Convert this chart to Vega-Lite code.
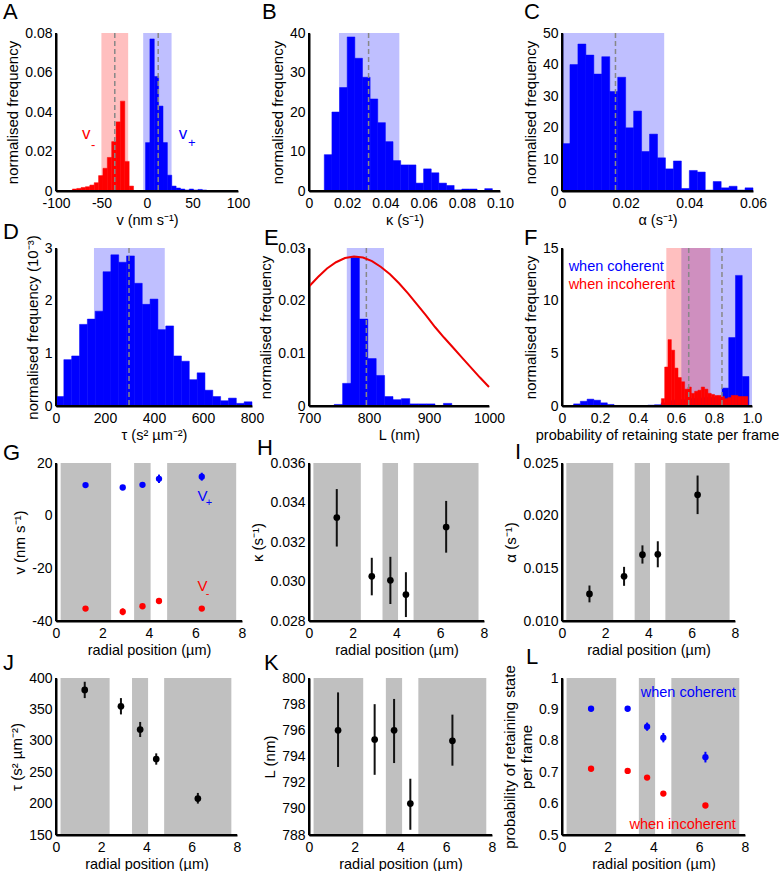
{
"$schema": "https://vega.github.io/schema/vega-lite/v6.json",
"padding": {"left": 3, "top": 1, "right": 0, "bottom": 0},
"columns": 3,
"spacing": {"row": 57, "column": 57},
"bounds": "flush",
"align": "all",
"config": {
  "font": "Liberation Sans",
  "view": {"stroke": null},
  "axis": {"domain": true, "domainColor": "#000000", "domainOpacity": 1, "domainWidth": 2, "ticks": false, "grid": false, "labelFontSize": 14, "labelColor": "#000000", "labelPadding": 4, "labelOverlap": false, "labelFlush": false, "labelBound": false, "titleFontWeight": "normal", "titleColor": "#000000", "titlePadding": 4, "zindex": 1},
  "axisX": {"titleFontSize": 14.5, "labelPadding": 5, "titlePadding": 3},
  "axisY": {"titleFontSize": 15},
  "title": {"fontSize": 22, "fontWeight": "normal", "anchor": "start", "frame": "group", "offset": 4, "color": "#000000"}
},
"datasets": {
  "hA": [
    {"x0": -82, "x1": -77.2, "f": 0.001, "s": "neg"},
    {"x0": -77.2, "x1": -72.4, "f": 0.0013, "s": "neg"},
    {"x0": -72.4, "x1": -67.6, "f": 0.0018, "s": "neg"},
    {"x0": -67.6, "x1": -62.8, "f": 0.0022, "s": "neg"},
    {"x0": -62.8, "x1": -58, "f": 0.003, "s": "neg"},
    {"x0": -58, "x1": -53.2, "f": 0.0042, "s": "neg"},
    {"x0": -53.2, "x1": -48.4, "f": 0.0078, "s": "neg"},
    {"x0": -48.4, "x1": -43.6, "f": 0.0115, "s": "neg"},
    {"x0": -43.6, "x1": -38.8, "f": 0.017, "s": "neg"},
    {"x0": -38.8, "x1": -34, "f": 0.025, "s": "neg"},
    {"x0": -34, "x1": -29.2, "f": 0.035, "s": "neg"},
    {"x0": -29.2, "x1": -24.4, "f": 0.0455, "s": "neg"},
    {"x0": -24.4, "x1": -19.6, "f": 0.015, "s": "neg"},
    {"x0": -19.6, "x1": -14.8, "f": 0.0025, "s": "neg"},
    {"x0": -1.6, "x1": 3.2, "f": 0.0245, "s": "pos"},
    {"x0": 3.2, "x1": 8, "f": 0.077, "s": "pos"},
    {"x0": 8, "x1": 12.8, "f": 0.058, "s": "pos"},
    {"x0": 12.8, "x1": 17.6, "f": 0.043, "s": "pos"},
    {"x0": 17.6, "x1": 22.4, "f": 0.0245, "s": "pos"},
    {"x0": 22.4, "x1": 27.2, "f": 0.008, "s": "pos"},
    {"x0": 27.2, "x1": 32, "f": 0.0025, "s": "pos"},
    {"x0": 32, "x1": 36.8, "f": 0.0015, "s": "pos"},
    {"x0": 36.8, "x1": 41.6, "f": 0.001, "s": "pos"},
    {"x0": 41.6, "x1": 46.4, "f": 0.0005, "s": "pos"},
    {"x0": 46.4, "x1": 51.2, "f": 0.001, "s": "pos"},
    {"x0": 51.2, "x1": 56, "f": 0.0005, "s": "pos"},
    {"x0": 56, "x1": 60.8, "f": 0.0008, "s": "pos"},
    {"x0": 60.8, "x1": 65.6, "f": 0.0005, "s": "pos"}
  ],
  "bA": [
    {"lo": -50.1, "hi": -20.7, "m": -35.4, "s": "neg"},
    {"lo": -4.2, "hi": 27, "m": 12.3, "s": "pos"}
  ],
  "hB": [
    {"x0": 0.008, "x1": 0.012, "f": 9.2}, {"x0": 0.012, "x1": 0.016, "f": 20}, {"x0": 0.016, "x1": 0.02, "f": 26.2},
    {"x0": 0.02, "x1": 0.024, "f": 39}, {"x0": 0.024, "x1": 0.028, "f": 33.6}, {"x0": 0.028, "x1": 0.032, "f": 28.8},
    {"x0": 0.032, "x1": 0.036, "f": 23.3}, {"x0": 0.036, "x1": 0.04, "f": 17.3}, {"x0": 0.04, "x1": 0.044, "f": 12.5},
    {"x0": 0.044, "x1": 0.048, "f": 7.7}, {"x0": 0.048, "x1": 0.052, "f": 6.6}, {"x0": 0.052, "x1": 0.056, "f": 6.6},
    {"x0": 0.056, "x1": 0.06, "f": 2}, {"x0": 0.06, "x1": 0.064, "f": 5.6}, {"x0": 0.064, "x1": 0.068, "f": 4.6},
    {"x0": 0.068, "x1": 0.072, "f": 2}, {"x0": 0.072, "x1": 0.076, "f": 1.4}, {"x0": 0.076, "x1": 0.08, "f": 0.3},
    {"x0": 0.08, "x1": 0.084, "f": 0.5}, {"x0": 0.084, "x1": 0.088, "f": 0.5}, {"x0": 0.088, "x1": 0.092, "f": 0.1},
    {"x0": 0.092, "x1": 0.096, "f": 0.6}
  ],
  "bB": [{"lo": 0.0157, "hi": 0.0473, "m": 0.0312}],
  "hC": [
    {"x0": 0, "x1": 0.0025, "f": 15}, {"x0": 0.0025, "x1": 0.005, "f": 40}, {"x0": 0.005, "x1": 0.0075, "f": 46.5},
    {"x0": 0.0075, "x1": 0.01, "f": 43}, {"x0": 0.01, "x1": 0.0125, "f": 37}, {"x0": 0.0125, "x1": 0.015, "f": 42.5},
    {"x0": 0.015, "x1": 0.0175, "f": 31.5}, {"x0": 0.0175, "x1": 0.02, "f": 36}, {"x0": 0.02, "x1": 0.0225, "f": 20},
    {"x0": 0.0225, "x1": 0.025, "f": 25.3}, {"x0": 0.025, "x1": 0.0275, "f": 12.5}, {"x0": 0.0275, "x1": 0.03, "f": 18},
    {"x0": 0.03, "x1": 0.0325, "f": 10.5}, {"x0": 0.0325, "x1": 0.035, "f": 7}, {"x0": 0.035, "x1": 0.0375, "f": 9.5},
    {"x0": 0.0375, "x1": 0.04, "f": 0.8}, {"x0": 0.04, "x1": 0.0425, "f": 6.5}, {"x0": 0.0425, "x1": 0.045, "f": 6},
    {"x0": 0.045, "x1": 0.0475, "f": 0.3}, {"x0": 0.0475, "x1": 0.05, "f": 3}, {"x0": 0.05, "x1": 0.0525, "f": 1},
    {"x0": 0.0525, "x1": 0.055, "f": 1.5}, {"x0": 0.055, "x1": 0.0575, "f": 0.3}, {"x0": 0.0575, "x1": 0.06, "f": 1}
  ],
  "bC": [{"lo": 0, "hi": 0.0321, "m": 0.0168}],
  "hD": [
    {"x0": 0, "x1": 32, "f": 0.18}, {"x0": 32, "x1": 64, "f": 0.88}, {"x0": 64, "x1": 96, "f": 0.95},
    {"x0": 96, "x1": 128, "f": 1.55}, {"x0": 128, "x1": 160, "f": 1.65}, {"x0": 160, "x1": 192, "f": 1.8},
    {"x0": 192, "x1": 224, "f": 2.55}, {"x0": 224, "x1": 256, "f": 2.87}, {"x0": 256, "x1": 288, "f": 2.73},
    {"x0": 288, "x1": 320, "f": 2.85}, {"x0": 320, "x1": 352, "f": 2.33}, {"x0": 352, "x1": 384, "f": 1.93},
    {"x0": 384, "x1": 416, "f": 2.03}, {"x0": 416, "x1": 448, "f": 1.45}, {"x0": 448, "x1": 480, "f": 1.52},
    {"x0": 480, "x1": 512, "f": 0.95}, {"x0": 512, "x1": 544, "f": 0.85}, {"x0": 544, "x1": 576, "f": 0.5},
    {"x0": 576, "x1": 608, "f": 0.63}, {"x0": 608, "x1": 640, "f": 0.3}, {"x0": 640, "x1": 672, "f": 0.18},
    {"x0": 672, "x1": 704, "f": 0.1}, {"x0": 704, "x1": 736, "f": 0.15}, {"x0": 736, "x1": 768, "f": 0.05},
    {"x0": 768, "x1": 800, "f": 0.08}
  ],
  "bD": [{"lo": 155, "hi": 444, "m": 298}],
  "hE": [
    {"x0": 742, "x1": 756, "f": 0.0003}, {"x0": 756, "x1": 770, "f": 0.0043}, {"x0": 770, "x1": 784, "f": 0.0282},
    {"x0": 784, "x1": 798, "f": 0.0165}, {"x0": 798, "x1": 812, "f": 0.009}, {"x0": 812, "x1": 826, "f": 0.0058},
    {"x0": 826, "x1": 840, "f": 0.0018}, {"x0": 840, "x1": 854, "f": 0.0012}, {"x0": 854, "x1": 868, "f": 0.0014},
    {"x0": 868, "x1": 882, "f": 0.0004}, {"x0": 882, "x1": 896, "f": 0.0004}, {"x0": 896, "x1": 910, "f": 0.0004},
    {"x0": 910, "x1": 924, "f": 0.0001}, {"x0": 924, "x1": 938, "f": 0.0005}
  ],
  "bE": [{"lo": 763, "hi": 825, "m": 795.6}],
  "cE": [
    {"L": 700, "f": 0.0227}, {"L": 715, "f": 0.0245}, {"L": 730, "f": 0.0261}, {"L": 745, "f": 0.0273},
    {"L": 760, "f": 0.0281}, {"L": 775, "f": 0.0284}, {"L": 790, "f": 0.0282}, {"L": 805, "f": 0.0275},
    {"L": 820, "f": 0.0264}, {"L": 835, "f": 0.025}, {"L": 850, "f": 0.0233}, {"L": 865, "f": 0.0214},
    {"L": 880, "f": 0.0193}, {"L": 895, "f": 0.0172}, {"L": 910, "f": 0.015}, {"L": 925, "f": 0.013},
    {"L": 940, "f": 0.0111}, {"L": 955, "f": 0.0092}, {"L": 970, "f": 0.0073}, {"L": 985, "f": 0.0054},
    {"L": 1000, "f": 0.0036}
  ],
  "hF": [
    {"x0": 0.061, "x1": 0.0965, "f": 0.2, "s": "coh"}, {"x0": 0.0965, "x1": 0.132, "f": 0.45, "s": "coh"},
    {"x0": 0.132, "x1": 0.1675, "f": 0.65, "s": "coh"}, {"x0": 0.1675, "x1": 0.203, "f": 0.55, "s": "coh"},
    {"x0": 0.203, "x1": 0.2385, "f": 0.3, "s": "coh"}, {"x0": 0.2385, "x1": 0.274, "f": 0.15, "s": "coh"},
    {"x0": 0.274, "x1": 0.3095, "f": 0.05, "s": "coh"}, {"x0": 0.4515, "x1": 0.487, "f": 0.08, "s": "coh"},
    {"x0": 0.487, "x1": 0.5225, "f": 0.12, "s": "coh"}, {"x0": 0.5225, "x1": 0.558, "f": 0.3, "s": "coh"},
    {"x0": 0.558, "x1": 0.5935, "f": 0.5, "s": "coh"}, {"x0": 0.5935, "x1": 0.629, "f": 0.6, "s": "coh"},
    {"x0": 0.629, "x1": 0.6645, "f": 0.6, "s": "coh"}, {"x0": 0.6645, "x1": 0.7, "f": 0.7, "s": "coh"},
    {"x0": 0.7, "x1": 0.7355, "f": 0.7, "s": "coh"}, {"x0": 0.7355, "x1": 0.771, "f": 0.8, "s": "coh"},
    {"x0": 0.771, "x1": 0.8065, "f": 0.8, "s": "coh"}, {"x0": 0.8065, "x1": 0.842, "f": 0.9, "s": "coh"},
    {"x0": 0.842, "x1": 0.8775, "f": 1.7, "s": "coh"}, {"x0": 0.8775, "x1": 0.913, "f": 6.5, "s": "coh"},
    {"x0": 0.913, "x1": 0.9485, "f": 12.4, "s": "coh"}, {"x0": 0.9485, "x1": 0.984, "f": 2.8, "s": "coh"},
    {"x0": 0.523, "x1": 0.5405, "f": 0.7, "s": "inc"}, {"x0": 0.5405, "x1": 0.558, "f": 3.7, "s": "inc"},
    {"x0": 0.558, "x1": 0.5755, "f": 6.3, "s": "inc"}, {"x0": 0.5755, "x1": 0.593, "f": 5.3, "s": "inc"},
    {"x0": 0.593, "x1": 0.6105, "f": 3.6, "s": "inc"}, {"x0": 0.6105, "x1": 0.628, "f": 2.7, "s": "inc"},
    {"x0": 0.628, "x1": 0.6455, "f": 2.3, "s": "inc"}, {"x0": 0.6455, "x1": 0.663, "f": 1.6, "s": "inc"},
    {"x0": 0.663, "x1": 0.6805, "f": 1.8, "s": "inc"}, {"x0": 0.6805, "x1": 0.698, "f": 1.2, "s": "inc"},
    {"x0": 0.698, "x1": 0.7155, "f": 1.4, "s": "inc"}, {"x0": 0.7155, "x1": 0.733, "f": 1.5, "s": "inc"},
    {"x0": 0.733, "x1": 0.7505, "f": 1.8, "s": "inc"}, {"x0": 0.7505, "x1": 0.768, "f": 1.6, "s": "inc"},
    {"x0": 0.768, "x1": 0.7855, "f": 1.2, "s": "inc"}, {"x0": 0.7855, "x1": 0.803, "f": 1.1, "s": "inc"},
    {"x0": 0.803, "x1": 0.8205, "f": 1.0, "s": "inc"}, {"x0": 0.8205, "x1": 0.838, "f": 1.0, "s": "inc"},
    {"x0": 0.838, "x1": 0.8555, "f": 0.9, "s": "inc"}, {"x0": 0.8555, "x1": 0.873, "f": 0.7, "s": "inc"},
    {"x0": 0.873, "x1": 0.8905, "f": 0.8, "s": "inc"}, {"x0": 0.8905, "x1": 0.908, "f": 1.0, "s": "inc"},
    {"x0": 0.908, "x1": 0.9255, "f": 1.0, "s": "inc"}, {"x0": 0.9255, "x1": 0.943, "f": 0.9, "s": "inc"},
    {"x0": 0.943, "x1": 0.9605, "f": 0.9, "s": "inc"}, {"x0": 0.9605, "x1": 0.978, "f": 0.9, "s": "inc"}
  ],
  "bF": [
    {"lo": 0.628, "hi": 1.0, "m": 0.842, "s": "coh"},
    {"lo": 0.549, "hi": 0.781, "m": 0.667, "s": "inc"}
  ],
  "reg": [
    {"r0": 0.2, "r1": 2.37}, {"r0": 3.36, "r1": 4.07}, {"r0": 4.78, "r1": 7.75}
  ],
  "pG": [
    {"r": 1.27, "val": 11.6, "lo": 11.1, "hi": 12.1, "s": "pos"},
    {"r": 2.87, "val": 10.7, "lo": 10.2, "hi": 11.3, "s": "pos"},
    {"r": 3.72, "val": 11.7, "lo": 11.1, "hi": 12.3, "s": "pos"},
    {"r": 4.43, "val": 14.0, "lo": 12.4, "hi": 15.6, "s": "pos"},
    {"r": 6.27, "val": 14.8, "lo": 13.3, "hi": 16.3, "s": "pos"},
    {"r": 1.27, "val": -35.3, "lo": -36.1, "hi": -34.5, "s": "neg"},
    {"r": 2.87, "val": -36.5, "lo": -37.8, "hi": -35.2, "s": "neg"},
    {"r": 3.72, "val": -34.4, "lo": -35.0, "hi": -33.8, "s": "neg"},
    {"r": 4.43, "val": -32.4, "lo": -32.9, "hi": -31.9, "s": "neg"},
    {"r": 6.27, "val": -35.3, "lo": -36.1, "hi": -34.5, "s": "neg"}
  ],
  "pH": [
    {"r": 1.27, "val": 0.03324, "lo": 0.03177, "hi": 0.03468},
    {"r": 2.87, "val": 0.03026, "lo": 0.0293, "hi": 0.0312},
    {"r": 3.72, "val": 0.03006, "lo": 0.02886, "hi": 0.03125},
    {"r": 4.43, "val": 0.02934, "lo": 0.0282, "hi": 0.03047},
    {"r": 6.27, "val": 0.03276, "lo": 0.03146, "hi": 0.03408}
  ],
  "pI": [
    {"r": 1.27, "val": 0.01257, "lo": 0.01177, "hi": 0.01337},
    {"r": 2.87, "val": 0.01424, "lo": 0.01334, "hi": 0.01514},
    {"r": 3.72, "val": 0.0163, "lo": 0.01545, "hi": 0.01718},
    {"r": 4.43, "val": 0.01633, "lo": 0.0151, "hi": 0.01757},
    {"r": 6.27, "val": 0.02198, "lo": 0.02015, "hi": 0.02381}
  ],
  "pJ": [
    {"r": 1.27, "val": 381, "lo": 368, "hi": 394},
    {"r": 2.87, "val": 355, "lo": 342, "hi": 368},
    {"r": 3.72, "val": 318, "lo": 306, "hi": 330},
    {"r": 4.43, "val": 271, "lo": 262, "hi": 280},
    {"r": 6.27, "val": 208, "lo": 200, "hi": 217}
  ],
  "pK": [
    {"r": 1.27, "val": 796.0, "lo": 793.2, "hi": 798.9},
    {"r": 2.87, "val": 795.3, "lo": 792.6, "hi": 798.0},
    {"r": 3.72, "val": 796.0, "lo": 793.5, "hi": 798.4},
    {"r": 4.43, "val": 790.4, "lo": 788.4, "hi": 792.3},
    {"r": 6.27, "val": 795.2, "lo": 793.3, "hi": 797.2}
  ],
  "pL": [
    {"r": 1.27, "val": 0.902, "lo": 0.897, "hi": 0.907, "s": "coh"},
    {"r": 2.87, "val": 0.902, "lo": 0.898, "hi": 0.906, "s": "coh"},
    {"r": 3.72, "val": 0.845, "lo": 0.832, "hi": 0.858, "s": "coh"},
    {"r": 4.43, "val": 0.81, "lo": 0.795, "hi": 0.825, "s": "coh"},
    {"r": 6.27, "val": 0.748, "lo": 0.731, "hi": 0.765, "s": "coh"},
    {"r": 1.27, "val": 0.711, "lo": 0.705, "hi": 0.718, "s": "inc"},
    {"r": 2.87, "val": 0.704, "lo": 0.698, "hi": 0.71, "s": "inc"},
    {"r": 3.72, "val": 0.683, "lo": 0.677, "hi": 0.689, "s": "inc"},
    {"r": 4.43, "val": 0.632, "lo": 0.628, "hi": 0.636, "s": "inc"},
    {"r": 6.27, "val": 0.594, "lo": 0.59, "hi": 0.598, "s": "inc"}
  ]
},
"concat": [
  {
    "width": 182, "height": 158,
    "title": {"text": "A", "dx": -53, "dy": 2, "fontSize": 22},
    "layer": [
      {"data": {"name": "bA"}, "mark": {"type": "rect", "opacity": 0.25},
       "encoding": {
         "x": {"field": "lo", "type": "quantitative", "scale": {"domain": [-100, 100], "nice": false}, "axis": {"title": "v (nm s⁻¹)", "values": [-100, -50, 0, 50, 100], "labelExpr": "'' + datum.value"}},
         "x2": {"field": "hi"},
         "color": {"field": "s", "type": "nominal", "scale": {"domain": ["neg", "pos"], "range": ["#ff0000", "#0000ff"]}, "legend": null}}},
      {"data": {"name": "hA"}, "mark": {"type": "rect", "strokeWidth": 0.5},
       "encoding": {
         "x": {"field": "x0", "type": "quantitative", "scale": {"domain": [-100, 100], "nice": false}, "axis": {"title": "v (nm s⁻¹)", "values": [-100, -50, 0, 50, 100], "labelExpr": "'' + datum.value"}},
         "x2": {"field": "x1"},
         "y": {"field": "f", "type": "quantitative", "scale": {"domain": [0, 0.08], "nice": false}, "axis": {"title": "normalised frequency", "values": [0, 0.02, 0.04, 0.06, 0.08], "labelExpr": "datum.value == 0 ? '0' : format(datum.value, '.2f')"}},
         "y2": {"datum": 0},
         "color": {"field": "s", "type": "nominal", "scale": {"domain": ["neg", "pos"], "range": ["#ff0000", "#0000ff"]}, "legend": null},
         "stroke": {"field": "s", "type": "nominal", "scale": {"domain": ["neg", "pos"], "range": ["#ff0000", "#0000ff"]}, "legend": null}}},
      {"data": {"name": "bA"}, "mark": {"type": "rule", "color": "#888888", "strokeDash": [5, 3], "strokeWidth": 1.5},
       "encoding": {"x": {"field": "m", "type": "quantitative", "scale": {"domain": [-100, 100], "nice": false}, "axis": {"title": "v (nm s⁻¹)", "values": [-100, -50, 0, 50, 100], "labelExpr": "'' + datum.value"}}}},
      {"data": {"values": [{"t": "v", "x": -71.4, "y": 0.0263}, {"t": "v", "x": 35, "y": 0.0263}]},
       "mark": {"type": "text", "fontSize": 17, "align": "left", "baseline": "alphabetic"},
       "encoding": {
         "x": {"field": "x", "type": "quantitative", "scale": {"domain": [-100, 100], "nice": false}, "axis": {"title": "v (nm s⁻¹)", "values": [-100, -50, 0, 50, 100], "labelExpr": "'' + datum.value"}},
         "y": {"field": "y", "type": "quantitative", "scale": {"domain": [0, 0.08], "nice": false}, "axis": {"title": "normalised frequency", "values": [0, 0.02, 0.04, 0.06, 0.08], "labelExpr": "datum.value == 0 ? '0' : format(datum.value, '.2f')"}},
         "text": {"field": "t"},
         "color": {"field": "x", "type": "quantitative", "scale": {"type": "threshold", "domain": [0], "range": ["#ff0000", "#0000ff"]}, "legend": null}}},
      {"data": {"values": [{"t": "-", "x": -61.5, "y": 0.0212}, {"t": "+", "x": 45, "y": 0.0222}]},
       "mark": {"type": "text", "fontSize": 13, "align": "left", "baseline": "alphabetic"},
       "encoding": {
         "x": {"field": "x", "type": "quantitative", "scale": {"domain": [-100, 100], "nice": false}, "axis": {"title": "v (nm s⁻¹)", "values": [-100, -50, 0, 50, 100], "labelExpr": "'' + datum.value"}},
         "y": {"field": "y", "type": "quantitative", "scale": {"domain": [0, 0.08], "nice": false}, "axis": {"title": "normalised frequency", "values": [0, 0.02, 0.04, 0.06, 0.08], "labelExpr": "datum.value == 0 ? '0' : format(datum.value, '.2f')"}},
         "text": {"field": "t"},
         "color": {"field": "x", "type": "quantitative", "scale": {"type": "threshold", "domain": [0], "range": ["#ff0000", "#0000ff"]}, "legend": null}}},
      {"data": {"values": [{}]}, "mark": {"type": "rule", "color": "#000000", "strokeWidth": 2},
       "encoding": {"y": {"datum": 0, "scale": {"domain": [0, 0.08], "nice": false}, "axis": {"title": "normalised frequency", "values": [0, 0.02, 0.04, 0.06, 0.08], "labelExpr": "datum.value == 0 ? '0' : format(datum.value, '.2f')"}}}},
      {"data": {"values": [{}]}, "mark": {"type": "rule", "color": "#000000", "strokeWidth": 2},
       "encoding": {"x": {"datum": -100, "scale": {"domain": [-100, 100], "nice": false}, "axis": {"title": "v (nm s⁻¹)", "values": [-100, -50, 0, 50, 100], "labelExpr": "'' + datum.value"}}}}
    ]
  },
  {
    "width": 191, "height": 158,
    "title": {"text": "B", "dx": -47, "dy": 2, "fontSize": 22},
    "layer": [
      {"data": {"name": "bB"}, "mark": {"type": "rect", "opacity": 0.25, "color": "#0000ff"},
       "encoding": {
         "x": {"field": "lo", "type": "quantitative", "scale": {"domain": [0, 0.1], "nice": false}, "axis": {"title": "κ (s⁻¹)", "values": [0, 0.02, 0.04, 0.06, 0.08, 0.1], "labelExpr": "datum.value == 0 ? '0' : format(datum.value, '.2f')"}},
         "x2": {"field": "hi"}}},
      {"data": {"name": "hB"}, "mark": {"type": "rect", "color": "#0000ff", "stroke": "#0000ff", "strokeWidth": 0.5},
       "encoding": {
         "x": {"field": "x0", "type": "quantitative", "scale": {"domain": [0, 0.1], "nice": false}, "axis": {"title": "κ (s⁻¹)", "values": [0, 0.02, 0.04, 0.06, 0.08, 0.1], "labelExpr": "datum.value == 0 ? '0' : format(datum.value, '.2f')"}},
         "x2": {"field": "x1"},
         "y": {"field": "f", "type": "quantitative", "scale": {"domain": [0, 40], "nice": false}, "axis": {"title": "normalised frequency", "values": [0, 10, 20, 30, 40]}},
         "y2": {"datum": 0}}},
      {"data": {"name": "bB"}, "mark": {"type": "rule", "color": "#888888", "strokeDash": [5, 3], "strokeWidth": 1.5},
       "encoding": {"x": {"field": "m", "type": "quantitative", "scale": {"domain": [0, 0.1], "nice": false}, "axis": {"title": "κ (s⁻¹)", "values": [0, 0.02, 0.04, 0.06, 0.08, 0.1], "labelExpr": "datum.value == 0 ? '0' : format(datum.value, '.2f')"}}}},
      {"data": {"values": [{}]}, "mark": {"type": "rule", "color": "#000000", "strokeWidth": 2},
       "encoding": {"y": {"datum": 0, "scale": {"domain": [0, 40], "nice": false}, "axis": {"title": "normalised frequency", "values": [0, 10, 20, 30, 40]}}}},
      {"data": {"values": [{}]}, "mark": {"type": "rule", "color": "#000000", "strokeWidth": 2},
       "encoding": {"x": {"datum": 0, "scale": {"domain": [0, 0.1], "nice": false}, "axis": {"title": "κ (s⁻¹)", "values": [0, 0.02, 0.04, 0.06, 0.08, 0.1], "labelExpr": "datum.value == 0 ? '0' : format(datum.value, '.2f')"}}}}
    ]
  },
  {
    "width": 191, "height": 158,
    "title": {"text": "C", "dx": -38, "dy": 2, "fontSize": 22},
    "layer": [
      {"data": {"name": "bC"}, "mark": {"type": "rect", "opacity": 0.25, "color": "#0000ff"},
       "encoding": {
         "x": {"field": "lo", "type": "quantitative", "scale": {"domain": [0, 0.06], "nice": false}, "axis": {"title": "α (s⁻¹)", "values": [0, 0.02, 0.04, 0.06], "labelExpr": "datum.value == 0 ? '0' : format(datum.value, '.2f')"}},
         "x2": {"field": "hi"}}},
      {"data": {"name": "hC"}, "mark": {"type": "rect", "color": "#0000ff", "stroke": "#0000ff", "strokeWidth": 0.5},
       "encoding": {
         "x": {"field": "x0", "type": "quantitative", "scale": {"domain": [0, 0.06], "nice": false}, "axis": {"title": "α (s⁻¹)", "values": [0, 0.02, 0.04, 0.06], "labelExpr": "datum.value == 0 ? '0' : format(datum.value, '.2f')"}},
         "x2": {"field": "x1"},
         "y": {"field": "f", "type": "quantitative", "scale": {"domain": [0, 50], "nice": false}, "axis": {"title": "normalised frequency", "values": [0, 10, 20, 30, 40, 50]}},
         "y2": {"datum": 0}}},
      {"data": {"name": "bC"}, "mark": {"type": "rule", "color": "#888888", "strokeDash": [5, 3], "strokeWidth": 1.5},
       "encoding": {"x": {"field": "m", "type": "quantitative", "scale": {"domain": [0, 0.06], "nice": false}, "axis": {"title": "α (s⁻¹)", "values": [0, 0.02, 0.04, 0.06], "labelExpr": "datum.value == 0 ? '0' : format(datum.value, '.2f')"}}}},
      {"data": {"values": [{}]}, "mark": {"type": "rule", "color": "#000000", "strokeWidth": 2},
       "encoding": {"y": {"datum": 0, "scale": {"domain": [0, 50], "nice": false}, "axis": {"title": "normalised frequency", "values": [0, 10, 20, 30, 40, 50]}}}},
      {"data": {"values": [{}]}, "mark": {"type": "rule", "color": "#000000", "strokeWidth": 2},
       "encoding": {"x": {"datum": 0, "scale": {"domain": [0, 0.06], "nice": false}, "axis": {"title": "α (s⁻¹)", "values": [0, 0.02, 0.04, 0.06], "labelExpr": "datum.value == 0 ? '0' : format(datum.value, '.2f')"}}}}
    ]
  },
  {
    "width": 196, "height": 158,
    "title": {"text": "D", "dx": -53, "dy": 13, "fontSize": 22},
    "layer": [
      {"data": {"name": "bD"}, "mark": {"type": "rect", "opacity": 0.25, "color": "#0000ff"},
       "encoding": {
         "x": {"field": "lo", "type": "quantitative", "scale": {"domain": [0, 800], "nice": false}, "axis": {"title": "τ (s² µm⁻²)", "values": [0, 200, 400, 600, 800]}},
         "x2": {"field": "hi"}}},
      {"data": {"name": "hD"}, "mark": {"type": "rect", "color": "#0000ff", "stroke": "#0000ff", "strokeWidth": 0.5},
       "encoding": {
         "x": {"field": "x0", "type": "quantitative", "scale": {"domain": [0, 800], "nice": false}, "axis": {"title": "τ (s² µm⁻²)", "values": [0, 200, 400, 600, 800]}},
         "x2": {"field": "x1"},
         "y": {"field": "f", "type": "quantitative", "scale": {"domain": [0, 3], "nice": false}, "axis": {"title": "normalised frequency (10⁻³)", "values": [0, 1, 2, 3]}},
         "y2": {"datum": 0}}},
      {"data": {"name": "bD"}, "mark": {"type": "rule", "color": "#888888", "strokeDash": [5, 3], "strokeWidth": 1.5},
       "encoding": {"x": {"field": "m", "type": "quantitative", "scale": {"domain": [0, 800], "nice": false}, "axis": {"title": "τ (s² µm⁻²)", "values": [0, 200, 400, 600, 800]}}}},
      {"data": {"values": [{}]}, "mark": {"type": "rule", "color": "#000000", "strokeWidth": 2},
       "encoding": {"y": {"datum": 0, "scale": {"domain": [0, 3], "nice": false}, "axis": {"title": "normalised frequency (10⁻³)", "values": [0, 1, 2, 3]}}}},
      {"data": {"values": [{}]}, "mark": {"type": "rule", "color": "#000000", "strokeWidth": 2},
       "encoding": {"x": {"datum": 0, "scale": {"domain": [0, 800], "nice": false}, "axis": {"title": "τ (s² µm⁻²)", "values": [0, 200, 400, 600, 800]}}}}
    ]
  },
  {
    "width": 180, "height": 158,
    "title": {"text": "E", "dx": -45, "dy": 13, "fontSize": 22},
    "layer": [
      {"data": {"name": "bE"}, "mark": {"type": "rect", "opacity": 0.25, "color": "#0000ff"},
       "encoding": {
         "x": {"field": "lo", "type": "quantitative", "scale": {"domain": [700, 1000], "nice": false}, "axis": {"title": "L (nm)", "values": [700, 800, 900, 1000], "labelExpr": "'' + datum.value"}},
         "x2": {"field": "hi"}}},
      {"data": {"name": "hE"}, "mark": {"type": "rect", "color": "#0000ff", "stroke": "#0000ff", "strokeWidth": 0.5},
       "encoding": {
         "x": {"field": "x0", "type": "quantitative", "scale": {"domain": [700, 1000], "nice": false}, "axis": {"title": "L (nm)", "values": [700, 800, 900, 1000], "labelExpr": "'' + datum.value"}},
         "x2": {"field": "x1"},
         "y": {"field": "f", "type": "quantitative", "scale": {"domain": [0, 0.03], "nice": false}, "axis": {"title": "normalised frequency", "values": [0, 0.01, 0.02, 0.03], "labelExpr": "datum.value == 0 ? '0' : format(datum.value, '.2f')"}},
         "y2": {"datum": 0}}},
      {"data": {"name": "bE"}, "mark": {"type": "rule", "color": "#888888", "strokeDash": [5, 3], "strokeWidth": 1.5},
       "encoding": {"x": {"field": "m", "type": "quantitative", "scale": {"domain": [700, 1000], "nice": false}, "axis": {"title": "L (nm)", "values": [700, 800, 900, 1000], "labelExpr": "'' + datum.value"}}}},
      {"data": {"name": "cE"}, "mark": {"type": "line", "color": "#ee0000", "strokeWidth": 2},
       "encoding": {
         "x": {"field": "L", "type": "quantitative", "scale": {"domain": [700, 1000], "nice": false}, "axis": {"title": "L (nm)", "values": [700, 800, 900, 1000], "labelExpr": "'' + datum.value"}},
         "y": {"field": "f", "type": "quantitative", "scale": {"domain": [0, 0.03], "nice": false}, "axis": {"title": "normalised frequency", "values": [0, 0.01, 0.02, 0.03], "labelExpr": "datum.value == 0 ? '0' : format(datum.value, '.2f')"}}}},
      {"data": {"values": [{}]}, "mark": {"type": "rule", "color": "#000000", "strokeWidth": 2},
       "encoding": {"y": {"datum": 0, "scale": {"domain": [0, 0.03], "nice": false}, "axis": {"title": "normalised frequency", "values": [0, 0.01, 0.02, 0.03], "labelExpr": "datum.value == 0 ? '0' : format(datum.value, '.2f')"}}}},
      {"data": {"values": [{}]}, "mark": {"type": "rule", "color": "#000000", "strokeWidth": 2},
       "encoding": {"x": {"datum": 700, "scale": {"domain": [700, 1000], "nice": false}, "axis": {"title": "L (nm)", "values": [700, 800, 900, 1000], "labelExpr": "'' + datum.value"}}}}
    ]
  },
  {
    "width": 190, "height": 158,
    "title": {"text": "F", "dx": -38, "dy": 13, "fontSize": 22},
    "layer": [
      {"data": {"name": "bF"}, "mark": {"type": "rect", "opacity": 0.25},
       "encoding": {
         "x": {"field": "lo", "type": "quantitative", "scale": {"domain": [0, 1], "nice": false}, "axis": {"title": "probability of retaining state per frame", "values": [0, 0.2, 0.4, 0.6, 0.8, 1], "labelExpr": "datum.value == 0 ? '0' : format(datum.value, '.1f')"}},
         "x2": {"field": "hi"},
         "color": {"field": "s", "type": "nominal", "scale": {"domain": ["inc", "coh"], "range": ["#ff0000", "#0000ff"]}, "legend": null}}},
      {"data": {"name": "hF"}, "mark": {"type": "rect", "strokeWidth": 0.5},
       "encoding": {
         "x": {"field": "x0", "type": "quantitative", "scale": {"domain": [0, 1], "nice": false}, "axis": {"title": "probability of retaining state per frame", "values": [0, 0.2, 0.4, 0.6, 0.8, 1], "labelExpr": "datum.value == 0 ? '0' : format(datum.value, '.1f')"}},
         "x2": {"field": "x1"},
         "y": {"field": "f", "type": "quantitative", "scale": {"domain": [0, 15], "nice": false}, "axis": {"title": "normalised frequency", "values": [0, 5, 10, 15]}},
         "y2": {"datum": 0},
         "color": {"field": "s", "type": "nominal", "scale": {"domain": ["inc", "coh"], "range": ["#ff0000", "#0000ff"]}, "legend": null},
         "stroke": {"field": "s", "type": "nominal", "scale": {"domain": ["inc", "coh"], "range": ["#ff0000", "#0000ff"]}, "legend": null}}},
      {"data": {"name": "bF"}, "mark": {"type": "rule", "color": "#888888", "strokeDash": [5, 3], "strokeWidth": 1.5},
       "encoding": {"x": {"field": "m", "type": "quantitative", "scale": {"domain": [0, 1], "nice": false}, "axis": {"title": "probability of retaining state per frame", "values": [0, 0.2, 0.4, 0.6, 0.8, 1], "labelExpr": "datum.value == 0 ? '0' : format(datum.value, '.1f')"}}}},
      {"data": {"values": [{"t": "when coherent", "x": 0.035, "y": 12.8, "s": "coh"}, {"t": "when incoherent", "x": 0.035, "y": 11.1, "s": "inc"}]},
       "mark": {"type": "text", "fontSize": 14.5, "align": "left", "baseline": "alphabetic"},
       "encoding": {
         "x": {"field": "x", "type": "quantitative", "scale": {"domain": [0, 1], "nice": false}, "axis": {"title": "probability of retaining state per frame", "values": [0, 0.2, 0.4, 0.6, 0.8, 1], "labelExpr": "datum.value == 0 ? '0' : format(datum.value, '.1f')"}},
         "y": {"field": "y", "type": "quantitative", "scale": {"domain": [0, 15], "nice": false}, "axis": {"title": "normalised frequency", "values": [0, 5, 10, 15]}},
         "text": {"field": "t"},
         "color": {"field": "s", "type": "nominal", "scale": {"domain": ["inc", "coh"], "range": ["#ff0000", "#0000ff"]}, "legend": null}}},
      {"data": {"values": [{}]}, "mark": {"type": "rule", "color": "#000000", "strokeWidth": 2},
       "encoding": {"y": {"datum": 0, "scale": {"domain": [0, 15], "nice": false}, "axis": {"title": "normalised frequency", "values": [0, 5, 10, 15]}}}},
      {"data": {"values": [{}]}, "mark": {"type": "rule", "color": "#000000", "strokeWidth": 2},
       "encoding": {"x": {"datum": 0, "scale": {"domain": [0, 1], "nice": false}, "axis": {"title": "probability of retaining state per frame", "values": [0, 0.2, 0.4, 0.6, 0.8, 1], "labelExpr": "datum.value == 0 ? '0' : format(datum.value, '.1f')"}}}}
    ]
  },
  {
    "width": 186, "height": 158,
    "title": {"text": "G", "dx": -53, "dy": 13, "fontSize": 22},
    "layer": [
      {"data": {"name": "reg"}, "mark": {"type": "rect", "color": "#c0c0c0"},
       "encoding": {
         "x": {"field": "r0", "type": "quantitative", "scale": {"domain": [0, 8], "nice": false}, "axis": {"title": "radial position (µm)", "values": [0, 2, 4, 6, 8]}},
         "x2": {"field": "r1"}}},
      {"data": {"name": "pG"}, "mark": {"type": "rule", "strokeWidth": 2},
       "encoding": {
         "x": {"field": "r", "type": "quantitative", "scale": {"domain": [0, 8], "nice": false}, "axis": {"title": "radial position (µm)", "values": [0, 2, 4, 6, 8]}},
         "y": {"field": "lo", "type": "quantitative", "scale": {"domain": [-40, 20], "nice": false}, "axis": {"title": "v (nm s⁻¹)", "values": [-40, -20, 0, 20], "labelExpr": "'' + datum.value"}},
         "y2": {"field": "hi"},
         "color": {"field": "s", "type": "nominal", "scale": {"domain": ["neg", "pos"], "range": ["#ff0000", "#0000ff"]}, "legend": null}}},
      {"data": {"name": "pG"}, "mark": {"type": "point", "filled": true, "size": 40, "opacity": 1},
       "encoding": {
         "x": {"field": "r", "type": "quantitative", "scale": {"domain": [0, 8], "nice": false}, "axis": {"title": "radial position (µm)", "values": [0, 2, 4, 6, 8]}},
         "y": {"field": "val", "type": "quantitative", "scale": {"domain": [-40, 20], "nice": false}, "axis": {"title": "v (nm s⁻¹)", "values": [-40, -20, 0, 20], "labelExpr": "'' + datum.value"}},
         "color": {"field": "s", "type": "nominal", "scale": {"domain": ["neg", "pos"], "range": ["#ff0000", "#0000ff"]}, "legend": null}}},
      {"data": {"values": [{"t": "V", "x": 6.3, "y": 5.7, "s": "pos"}, {"t": "V", "x": 6.3, "y": -28.6, "s": "neg"}]},
       "mark": {"type": "text", "fontSize": 15, "align": "center", "baseline": "alphabetic"},
       "encoding": {
         "x": {"field": "x", "type": "quantitative", "scale": {"domain": [0, 8], "nice": false}, "axis": {"title": "radial position (µm)", "values": [0, 2, 4, 6, 8]}},
         "y": {"field": "y", "type": "quantitative", "scale": {"domain": [-40, 20], "nice": false}, "axis": {"title": "v (nm s⁻¹)", "values": [-40, -20, 0, 20], "labelExpr": "'' + datum.value"}},
         "text": {"field": "t"},
         "color": {"field": "s", "type": "nominal", "scale": {"domain": ["neg", "pos"], "range": ["#ff0000", "#0000ff"]}, "legend": null}}},
      {"data": {"values": [{"t": "+", "x": 6.58, "y": 3.7, "s": "pos"}, {"t": "-", "x": 6.52, "y": -31.0, "s": "neg"}]},
       "mark": {"type": "text", "fontSize": 11, "align": "center", "baseline": "alphabetic"},
       "encoding": {
         "x": {"field": "x", "type": "quantitative", "scale": {"domain": [0, 8], "nice": false}, "axis": {"title": "radial position (µm)", "values": [0, 2, 4, 6, 8]}},
         "y": {"field": "y", "type": "quantitative", "scale": {"domain": [-40, 20], "nice": false}, "axis": {"title": "v (nm s⁻¹)", "values": [-40, -20, 0, 20], "labelExpr": "'' + datum.value"}},
         "text": {"field": "t"},
         "color": {"field": "s", "type": "nominal", "scale": {"domain": ["neg", "pos"], "range": ["#ff0000", "#0000ff"]}, "legend": null}}},
      {"data": {"values": [{}]}, "mark": {"type": "rule", "color": "#000000", "strokeWidth": 2},
       "encoding": {"y": {"datum": -40, "scale": {"domain": [-40, 20], "nice": false}, "axis": {"title": "v (nm s⁻¹)", "values": [-40, -20, 0, 20], "labelExpr": "'' + datum.value"}}}},
      {"data": {"values": [{}]}, "mark": {"type": "rule", "color": "#000000", "strokeWidth": 2},
       "encoding": {"x": {"datum": 0, "scale": {"domain": [0, 8], "nice": false}, "axis": {"title": "radial position (µm)", "values": [0, 2, 4, 6, 8]}}}}
    ]
  },
  {
    "width": 175, "height": 158,
    "title": {"text": "H", "dx": -52, "dy": 8, "fontSize": 22},
    "layer": [
      {"data": {"name": "reg"}, "mark": {"type": "rect", "color": "#c0c0c0"},
       "encoding": {
         "x": {"field": "r0", "type": "quantitative", "scale": {"domain": [0, 8], "nice": false}, "axis": {"title": "radial position (µm)", "values": [0, 2, 4, 6, 8]}},
         "x2": {"field": "r1"}}},
      {"data": {"name": "pH"}, "mark": {"type": "rule", "strokeWidth": 2, "color": "#111111"},
       "encoding": {
         "x": {"field": "r", "type": "quantitative", "scale": {"domain": [0, 8], "nice": false}, "axis": {"title": "radial position (µm)", "values": [0, 2, 4, 6, 8]}},
         "y": {"field": "lo", "type": "quantitative", "scale": {"domain": [0.028, 0.036], "nice": false, "zero": false}, "axis": {"title": "κ (s⁻¹)", "values": [0.028, 0.03, 0.032, 0.034, 0.036], "format": ".3f"}},
         "y2": {"field": "hi"}}},
      {"data": {"name": "pH"}, "mark": {"type": "point", "filled": true, "size": 45, "opacity": 1, "color": "#000000"},
       "encoding": {
         "x": {"field": "r", "type": "quantitative", "scale": {"domain": [0, 8], "nice": false}, "axis": {"title": "radial position (µm)", "values": [0, 2, 4, 6, 8]}},
         "y": {"field": "val", "type": "quantitative", "scale": {"domain": [0.028, 0.036], "nice": false, "zero": false}, "axis": {"title": "κ (s⁻¹)", "values": [0.028, 0.03, 0.032, 0.034, 0.036], "format": ".3f"}}}},
      {"data": {"values": [{}]}, "mark": {"type": "rule", "color": "#000000", "strokeWidth": 2},
       "encoding": {"y": {"datum": 0.028, "scale": {"domain": [0.028, 0.036], "nice": false, "zero": false}, "axis": {"title": "κ (s⁻¹)", "values": [0.028, 0.03, 0.032, 0.034, 0.036], "format": ".3f"}}}},
      {"data": {"values": [{}]}, "mark": {"type": "rule", "color": "#000000", "strokeWidth": 2},
       "encoding": {"x": {"datum": 0, "scale": {"domain": [0, 8], "nice": false}, "axis": {"title": "radial position (µm)", "values": [0, 2, 4, 6, 8]}}}}
    ]
  },
  {
    "width": 173, "height": 158,
    "title": {"text": "I", "dx": -47, "dy": 12, "fontSize": 22},
    "layer": [
      {"data": {"name": "reg"}, "mark": {"type": "rect", "color": "#c0c0c0"},
       "encoding": {
         "x": {"field": "r0", "type": "quantitative", "scale": {"domain": [0, 8], "nice": false}, "axis": {"title": "radial position (µm)", "values": [0, 2, 4, 6, 8]}},
         "x2": {"field": "r1"}}},
      {"data": {"name": "pI"}, "mark": {"type": "rule", "strokeWidth": 2, "color": "#111111"},
       "encoding": {
         "x": {"field": "r", "type": "quantitative", "scale": {"domain": [0, 8], "nice": false}, "axis": {"title": "radial position (µm)", "values": [0, 2, 4, 6, 8]}},
         "y": {"field": "lo", "type": "quantitative", "scale": {"domain": [0.01, 0.025], "nice": false, "zero": false}, "axis": {"title": "α (s⁻¹)", "values": [0.01, 0.015, 0.02, 0.025], "format": ".3f"}},
         "y2": {"field": "hi"}}},
      {"data": {"name": "pI"}, "mark": {"type": "point", "filled": true, "size": 45, "opacity": 1, "color": "#000000"},
       "encoding": {
         "x": {"field": "r", "type": "quantitative", "scale": {"domain": [0, 8], "nice": false}, "axis": {"title": "radial position (µm)", "values": [0, 2, 4, 6, 8]}},
         "y": {"field": "val", "type": "quantitative", "scale": {"domain": [0.01, 0.025], "nice": false, "zero": false}, "axis": {"title": "α (s⁻¹)", "values": [0.01, 0.015, 0.02, 0.025], "format": ".3f"}}}},
      {"data": {"values": [{}]}, "mark": {"type": "rule", "color": "#000000", "strokeWidth": 2},
       "encoding": {"y": {"datum": 0.01, "scale": {"domain": [0.01, 0.025], "nice": false, "zero": false}, "axis": {"title": "α (s⁻¹)", "values": [0.01, 0.015, 0.02, 0.025], "format": ".3f"}}}},
      {"data": {"values": [{}]}, "mark": {"type": "rule", "color": "#000000", "strokeWidth": 2},
       "encoding": {"x": {"datum": 0, "scale": {"domain": [0, 8], "nice": false}, "axis": {"title": "radial position (µm)", "values": [0, 2, 4, 6, 8]}}}}
    ]
  },
  {
    "width": 181, "height": 157,
    "title": {"text": "J", "dx": -53, "dy": 8, "fontSize": 22},
    "layer": [
      {"data": {"name": "reg"}, "mark": {"type": "rect", "color": "#c0c0c0"},
       "encoding": {
         "x": {"field": "r0", "type": "quantitative", "scale": {"domain": [0, 8], "nice": false}, "axis": {"title": "radial position (µm)", "values": [0, 2, 4, 6, 8]}},
         "x2": {"field": "r1"}}},
      {"data": {"name": "pJ"}, "mark": {"type": "rule", "strokeWidth": 2, "color": "#111111"},
       "encoding": {
         "x": {"field": "r", "type": "quantitative", "scale": {"domain": [0, 8], "nice": false}, "axis": {"title": "radial position (µm)", "values": [0, 2, 4, 6, 8]}},
         "y": {"field": "lo", "type": "quantitative", "scale": {"domain": [150, 400], "nice": false, "zero": false}, "axis": {"title": "τ (s² µm⁻²)", "values": [150, 200, 250, 300, 350, 400]}},
         "y2": {"field": "hi"}}},
      {"data": {"name": "pJ"}, "mark": {"type": "point", "filled": true, "size": 45, "opacity": 1, "color": "#000000"},
       "encoding": {
         "x": {"field": "r", "type": "quantitative", "scale": {"domain": [0, 8], "nice": false}, "axis": {"title": "radial position (µm)", "values": [0, 2, 4, 6, 8]}},
         "y": {"field": "val", "type": "quantitative", "scale": {"domain": [150, 400], "nice": false, "zero": false}, "axis": {"title": "τ (s² µm⁻²)", "values": [150, 200, 250, 300, 350, 400]}}}},
      {"data": {"values": [{}]}, "mark": {"type": "rule", "color": "#000000", "strokeWidth": 2},
       "encoding": {"y": {"datum": 150, "scale": {"domain": [150, 400], "nice": false, "zero": false}, "axis": {"title": "τ (s² µm⁻²)", "values": [150, 200, 250, 300, 350, 400]}}}},
      {"data": {"values": [{}]}, "mark": {"type": "rule", "color": "#000000", "strokeWidth": 2},
       "encoding": {"x": {"datum": 0, "scale": {"domain": [0, 8], "nice": false}, "axis": {"title": "radial position (µm)", "values": [0, 2, 4, 6, 8]}}}}
    ]
  },
  {
    "width": 183, "height": 157,
    "title": {"text": "K", "dx": -45, "dy": 8, "fontSize": 22},
    "layer": [
      {"data": {"name": "reg"}, "mark": {"type": "rect", "color": "#c0c0c0"},
       "encoding": {
         "x": {"field": "r0", "type": "quantitative", "scale": {"domain": [0, 8], "nice": false}, "axis": {"title": "radial position (µm)", "values": [0, 2, 4, 6, 8]}},
         "x2": {"field": "r1"}}},
      {"data": {"name": "pK"}, "mark": {"type": "rule", "strokeWidth": 2, "color": "#111111"},
       "encoding": {
         "x": {"field": "r", "type": "quantitative", "scale": {"domain": [0, 8], "nice": false}, "axis": {"title": "radial position (µm)", "values": [0, 2, 4, 6, 8]}},
         "y": {"field": "lo", "type": "quantitative", "scale": {"domain": [788, 800], "nice": false, "zero": false}, "axis": {"title": "L (nm)", "values": [788, 790, 792, 794, 796, 798, 800]}},
         "y2": {"field": "hi"}}},
      {"data": {"name": "pK"}, "mark": {"type": "point", "filled": true, "size": 45, "opacity": 1, "color": "#000000"},
       "encoding": {
         "x": {"field": "r", "type": "quantitative", "scale": {"domain": [0, 8], "nice": false}, "axis": {"title": "radial position (µm)", "values": [0, 2, 4, 6, 8]}},
         "y": {"field": "val", "type": "quantitative", "scale": {"domain": [788, 800], "nice": false, "zero": false}, "axis": {"title": "L (nm)", "values": [788, 790, 792, 794, 796, 798, 800]}}}},
      {"data": {"values": [{}]}, "mark": {"type": "rule", "color": "#000000", "strokeWidth": 2},
       "encoding": {"y": {"datum": 788, "scale": {"domain": [788, 800], "nice": false, "zero": false}, "axis": {"title": "L (nm)", "values": [788, 790, 792, 794, 796, 798, 800]}}}},
      {"data": {"values": [{}]}, "mark": {"type": "rule", "color": "#000000", "strokeWidth": 2},
       "encoding": {"x": {"datum": 0, "scale": {"domain": [0, 8], "nice": false}, "axis": {"title": "radial position (µm)", "values": [0, 2, 4, 6, 8]}}}}
    ]
  },
  {
    "width": 183, "height": 157,
    "title": {"text": "L", "dx": -36, "dy": 8, "fontSize": 22},
    "layer": [
      {"data": {"name": "reg"}, "mark": {"type": "rect", "color": "#c0c0c0"},
       "encoding": {
         "x": {"field": "r0", "type": "quantitative", "scale": {"domain": [0, 8], "nice": false}, "axis": {"title": "radial position (µm)", "values": [0, 2, 4, 6, 8]}},
         "x2": {"field": "r1"}}},
      {"data": {"name": "pL"}, "mark": {"type": "rule", "strokeWidth": 2},
       "encoding": {
         "x": {"field": "r", "type": "quantitative", "scale": {"domain": [0, 8], "nice": false}, "axis": {"title": "radial position (µm)", "values": [0, 2, 4, 6, 8]}},
         "y": {"field": "lo", "type": "quantitative", "scale": {"domain": [0.5, 1], "nice": false, "zero": false}, "axis": {"title": ["probability of retaining state", "per frame"], "values": [0.5, 0.6, 0.7, 0.8, 0.9, 1], "labelExpr": "datum.value == 1 ? '1' : format(datum.value, '.1f')"}},
         "y2": {"field": "hi"},
         "color": {"field": "s", "type": "nominal", "scale": {"domain": ["inc", "coh"], "range": ["#ff0000", "#0000ff"]}, "legend": null}}},
      {"data": {"name": "pL"}, "mark": {"type": "point", "filled": true, "size": 40, "opacity": 1},
       "encoding": {
         "x": {"field": "r", "type": "quantitative", "scale": {"domain": [0, 8], "nice": false}, "axis": {"title": "radial position (µm)", "values": [0, 2, 4, 6, 8]}},
         "y": {"field": "val", "type": "quantitative", "scale": {"domain": [0.5, 1], "nice": false, "zero": false}, "axis": {"title": ["probability of retaining state", "per frame"], "values": [0.5, 0.6, 0.7, 0.8, 0.9, 1], "labelExpr": "datum.value == 1 ? '1' : format(datum.value, '.1f')"}},
         "color": {"field": "s", "type": "nominal", "scale": {"domain": ["inc", "coh"], "range": ["#ff0000", "#0000ff"]}, "legend": null}}},
      {"data": {"values": [{"t": "when coherent", "x": 7.6, "y": 0.939, "s": "coh"}, {"t": "when incoherent", "x": 7.6, "y": 0.518, "s": "inc"}]},
       "mark": {"type": "text", "fontSize": 14.5, "align": "right", "baseline": "alphabetic"},
       "encoding": {
         "x": {"field": "x", "type": "quantitative", "scale": {"domain": [0, 8], "nice": false}, "axis": {"title": "radial position (µm)", "values": [0, 2, 4, 6, 8]}},
         "y": {"field": "y", "type": "quantitative", "scale": {"domain": [0.5, 1], "nice": false, "zero": false}, "axis": {"title": ["probability of retaining state", "per frame"], "values": [0.5, 0.6, 0.7, 0.8, 0.9, 1], "labelExpr": "datum.value == 1 ? '1' : format(datum.value, '.1f')"}},
         "text": {"field": "t"},
         "color": {"field": "s", "type": "nominal", "scale": {"domain": ["inc", "coh"], "range": ["#ff0000", "#0000ff"]}, "legend": null}}},
      {"data": {"values": [{}]}, "mark": {"type": "rule", "color": "#000000", "strokeWidth": 2},
       "encoding": {"y": {"datum": 0.5, "scale": {"domain": [0.5, 1], "nice": false, "zero": false}, "axis": {"title": ["probability of retaining state", "per frame"], "values": [0.5, 0.6, 0.7, 0.8, 0.9, 1], "labelExpr": "datum.value == 1 ? '1' : format(datum.value, '.1f')"}}}},
      {"data": {"values": [{}]}, "mark": {"type": "rule", "color": "#000000", "strokeWidth": 2},
       "encoding": {"x": {"datum": 0, "scale": {"domain": [0, 8], "nice": false}, "axis": {"title": "radial position (µm)", "values": [0, 2, 4, 6, 8]}}}}
    ]
  }
]
}
